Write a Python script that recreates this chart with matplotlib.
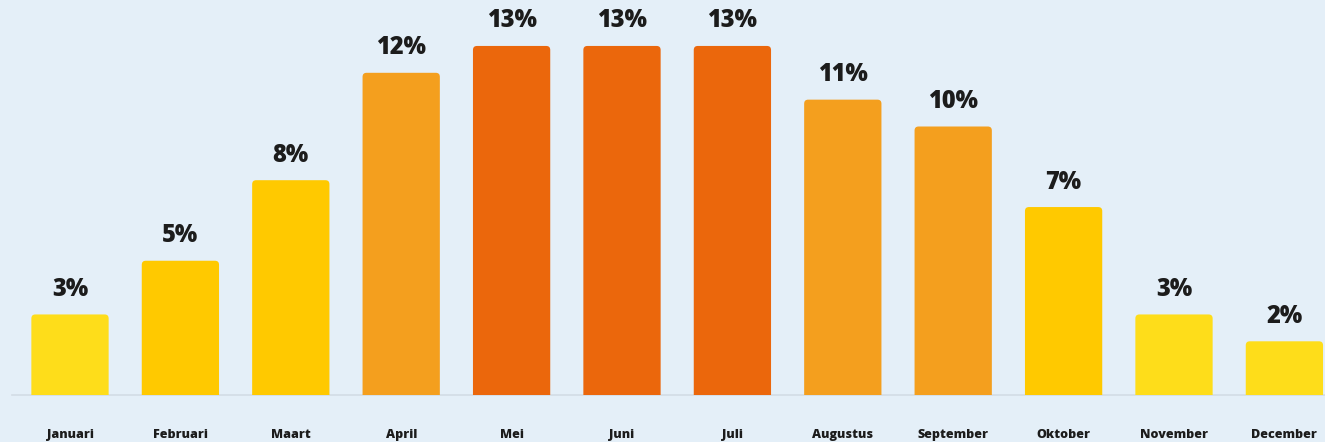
import matplotlib
matplotlib.use("Agg")
import matplotlib.pyplot as plt
from matplotlib.patches import FancyBboxPatch

months = ["Januari", "Februari", "Maart", "April", "Mei", "Juni",
          "Juli", "Augustus", "September", "Oktober", "November", "December"]
shares = [3, 5, 8, 12, 13, 13, 13, 11, 10, 7, 3, 2]
tiers = [0, 1, 1, 2, 3, 3, 3, 2, 2, 1, 0, 0]

tier_colors = ["#FEDD1A", "#FFC900", "#F49F1E", "#EB670C"]
bg = "#E4EFF8"

W, H, DPI = 1325, 442, 100
fig = plt.figure(figsize=(W / DPI, H / DPI), dpi=DPI, facecolor=bg)

base_px = 395          # baseline row from the top
px_per_unit = 26.85    # vertical pixels per percentage point
step_px = 110.4        # spacing between bar centres
first_px = 70          # first bar centre

ax = fig.add_axes([0, (H - base_px) / H, 1, base_px / H])
ax.set_facecolor(bg)
ax.set_ylim(0, base_px / px_per_unit)
ax.set_xlim(-first_px / step_px, (W - first_px) / step_px)
for s in ax.spines.values():
    s.set_visible(False)

bar_w = 0.70
aspect = step_px / px_per_unit
radius = 4 / step_px

for i, (v, t) in enumerate(zip(shares, tiers)):
    patch = FancyBboxPatch((i - bar_w / 2, -0.5), bar_w, v + 0.5,
                           boxstyle=f"round,pad=0,rounding_size={radius}",
                           mutation_aspect=aspect,
                           facecolor=tier_colors[t], edgecolor="none",
                           zorder=2)
    ax.add_patch(patch)
    ax.annotate(f"{v}%", (i, v), xytext=(0, 25), textcoords="offset pixels",
                ha="center", va="center", fontsize=17, fontweight="heavy",
                family="Open Sans", color="#1C1C1C", zorder=3)

ax.axhline(0, xmin=12 / W, xmax=1, color="#D3DCE5", lw=1.2, zorder=1,
           clip_on=False)

ax.set_xticks(range(len(months)))
ax.set_xticklabels(months, fontsize=9, fontweight="heavy", family="Open Sans",
                   color="#1C1C1C")
ax.tick_params(axis="x", length=0, pad=24.5)
ax.set_yticks([])

fig.savefig("out.png", dpi=DPI, facecolor=bg)
